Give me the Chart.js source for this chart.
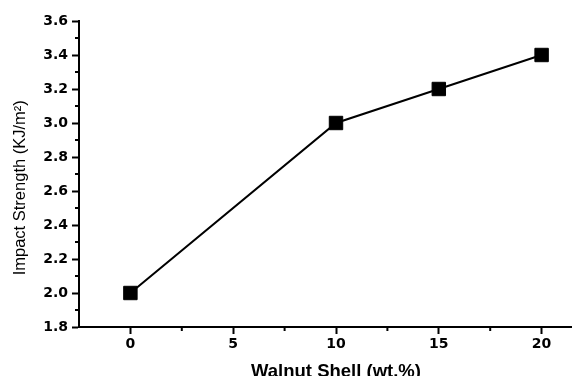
<!DOCTYPE html>
<html>
<head>
<meta charset="utf-8">
<script src="https://cdn.jsdelivr.net/npm/chart.js@4/dist/chart.umd.min.js"></script>
<style>
  html, body { margin: 0; padding: 0; background: #fff; overflow: hidden; }
  #wrap { width: 593px; height: 390px; }
</style>
</head>
<body>
<div id="wrap"><canvas id="c" width="593" height="390"></canvas></div>
<script>
// Data
const wtPercent = [0, 10, 15, 20];
const impactStrength = [2.0, 3.0, 3.2, 3.4];
const xTickValues = [0, 5, 10, 15, 20];
const yTickLabels = ['1.8', '2.0', '2.2', '2.4', '2.6', '2.8', '3.0', '3.2', '3.4', '3.6'];
const xTitle = 'Walnut Shell (wt.%)';
const yTitle = 'Impact Strength (KJ/m\u00B2)';

const points = wtPercent.map((x, i) => ({ x: x, y: impactStrength[i] }));

const minorTicks = {
  id: 'minorTicks',
  afterDraw(chart) {
    const ctx = chart.ctx;
    const area = chart.chartArea;
    ctx.save();
    ctx.strokeStyle = '#000';
    ctx.lineWidth = 2;
    const xs = chart.scales.x, ys = chart.scales.y;
    const xt = xs.ticks.map(t => t.value);
    const yt = ys.ticks.map(t => t.value);
    const len = 4;
    for (let i = 0; i < xt.length - 1; i++) {
      const px = xs.getPixelForValue((xt[i] + xt[i + 1]) / 2);
      ctx.beginPath(); ctx.moveTo(px, area.bottom); ctx.lineTo(px, area.bottom + len); ctx.stroke();
    }
    for (let i = 0; i < yt.length - 1; i++) {
      const py = ys.getPixelForValue((yt[i] + yt[i + 1]) / 2);
      ctx.beginPath(); ctx.moveTo(area.left, py); ctx.lineTo(area.left - len, py); ctx.stroke();
    }
    ctx.restore();
  }
};

const tickFont = { family: '"DejaVu Sans", sans-serif', size: 14, weight: 'bold' };

new Chart(document.getElementById('c'), {
  type: 'line',
  data: {
    datasets: [{
      data: points,
      borderColor: '#000',
      borderWidth: 2,
      backgroundColor: '#000',
      pointStyle: 'rect',
      pointRadius: 9.5,
      pointBorderWidth: 1,
      pointBorderColor: '#000',
      pointBackgroundColor: '#000',
      tension: 0,
      clip: false
    }]
  },
  options: {
    responsive: false,
    animation: false,
    events: [],
    layout: { autoPadding: false, padding: { top: 21, left: 0, right: 0, bottom: 0 } },
    plugins: { legend: { display: false }, tooltip: { enabled: false } },
    scales: {
      x: {
        type: 'linear',
        min: -2.5,
        max: 22.5,
        afterBuildTicks: s => { s.ticks = xTickValues.map(v => ({ value: v })); },
        afterFit: s => { s.height = 63; s.paddingLeft = 0; s.paddingRight = 0; },
        border: { display: true, color: '#000', width: 2 },
        grid: { drawOnChartArea: false, drawTicks: true, tickLength: 7, tickColor: '#000', tickWidth: 2 },
        ticks: {
          color: '#000',
          padding: 2,
          maxRotation: 0,
          font: tickFont,
          callback: v => String(v)
        },
        title: {
          display: true,
          text: xTitle,
          color: '#000',
          padding: { top: 0, bottom: 7 },
          font: { family: '"Liberation Sans", Arial, sans-serif', size: 18.5, weight: 'bold' }
        }
      },
      y: {
        type: 'linear',
        min: 1.8,
        max: 3.6,
        afterBuildTicks: s => { s.ticks = yTickLabels.map(v => ({ value: parseFloat(v) })); },
        afterFit: s => { s.width = 79; s.paddingTop = 0; s.paddingBottom = 0; },
        border: { display: true, color: '#000', width: 2 },
        grid: { drawOnChartArea: false, drawTicks: true, tickLength: 7, tickColor: '#000', tickWidth: 2 },
        ticks: {
          color: '#000',
          padding: 4,
          font: tickFont,
          callback: (v) => {
            const i = yTickLabels.findIndex(l => Math.abs(parseFloat(l) - v) < 1e-6);
            return i >= 0 ? yTickLabels[i] : '';
          }
        },
        title: {
          display: true,
          text: yTitle + '\u00A0\u00A0\u00A0\u00A0\u00A0\u00A0',
          color: '#000',
          padding: { top: 11, bottom: 0 },
          font: { family: '"Liberation Sans", Arial, sans-serif', size: 16.5, weight: 'normal' }
        }
      }
    }
  },
  plugins: [minorTicks]
});
</script>
</body>
</html>
